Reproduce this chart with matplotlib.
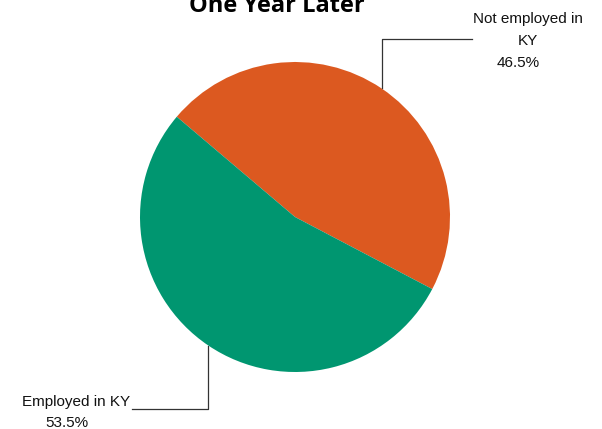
import numpy as np
import matplotlib.pyplot as plt

title = "One Year Later"
labels = ["Not employed in\nKY", "Employed in KY"]
values = [46.5, 53.5]
colors = ["#DC5920", "#009670"]

W, H = 602, 429
cx, cy, r = 295, H - 217, 155
start = 139.7

fig = plt.figure(figsize=(W / 100, H / 100), dpi=100)
ax = fig.add_axes([0, 0, 1, 1])
wedges, _ = ax.pie(values, colors=colors, startangle=start, counterclock=False,
                   center=(cx, cy), radius=r, frame=True,
                   wedgeprops=dict(linewidth=0))
ax.set_xlim(0, W)
ax.set_ylim(0, H)
ax.set_aspect("equal")
ax.axis("off")

ax.text(277, H - 12, title, ha="center", va="baseline", fontsize=17,
        fontweight="bold", family="Open Sans")

# leader lines start at each wedge's mid-angle
font = dict(family="Liberation Sans", fontsize=11, color="#111111")
mids = [np.deg2rad((w.theta1 + w.theta2) / 2) for w in wedges]

# Not employed (upper right)
x0, y0 = cx + r * np.cos(mids[0]), cy + r * np.sin(mids[0])
ax.plot([x0, x0, 472], [y0, H - 39, H - 39], color="#333333", lw=0.9)
name_lines = labels[0].split("\n")
ax.text(528, H - 23, name_lines[0], ha="center", va="baseline", **font)
ax.text(528, H - 45, name_lines[1], ha="center", va="baseline", **font)
ax.text(518, H - 67, f"{values[0]:.1f}%", ha="center", va="baseline", **font)

# Employed (lower left)
x1, y1 = cx + r * np.cos(mids[1]), cy + r * np.sin(mids[1])
ax.plot([x1, x1, 132], [y1, H - 409, H - 409], color="#333333", lw=0.9)
ax.text(76, H - 406, labels[1], ha="center", va="baseline", **font)
ax.text(67, H - 427, f"{values[1]:.1f}%", ha="center", va="baseline", **font)

fig.savefig("out.png", dpi=100)
